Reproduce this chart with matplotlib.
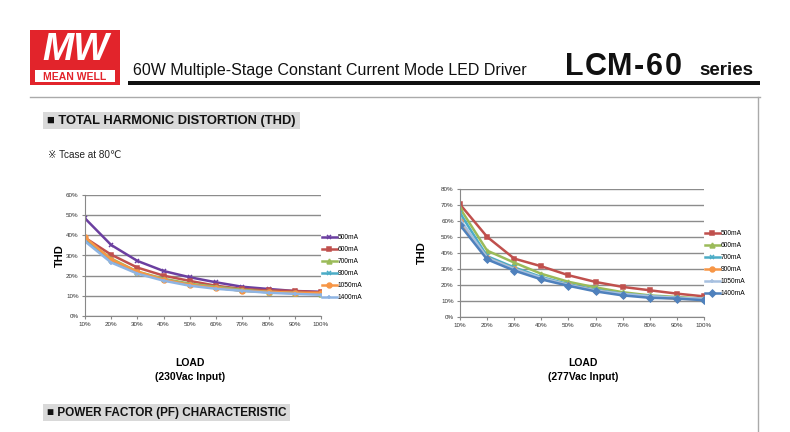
import matplotlib
matplotlib.use("Agg")
import matplotlib.pyplot as plt
from matplotlib.patches import Rectangle

plt.rcParams['font.family'] = ['Liberation Sans', 'DejaVu Sans', 'Noto Sans CJK SC']

# ---- data ----
load_labels = ["10%", "20%", "30%", "40%", "50%", "60%", "70%", "80%", "90%", "100%"]

series_names = ["500mA", "600mA", "700mA", "900mA", "1050mA", "1400mA"]
thd_230_500 = [48.4, 35.2, 27.3, 22.3, 19.2, 16.7, 14.5, 13.4, 12.4, 12.0]
thd_230_600 = [38.8, 30.4, 24.0, 20.0, 17.4, 15.0, 13.4, 12.7, 12.4, 11.7]
thd_230_700 = [38.0, 28.5, 22.0, 18.5, 16.0, 14.5, 13.0, 12.0, 11.5, 11.0]
thd_230_900 = [37.5, 27.5, 21.5, 18.0, 15.5, 14.0, 12.5, 11.8, 11.3, 11.0]
thd_230_1050 = [39.0, 28.0, 22.0, 18.0, 15.5, 14.0, 12.5, 12.0, 11.5, 11.5]
thd_230_1400 = [37.0, 26.5, 21.0, 17.5, 15.0, 13.5, 12.5, 11.5, 11.0, 10.5]

thd_277_500 = [70.4, 50.1, 36.5, 31.7, 26.1, 21.9, 18.8, 16.7, 14.6, 12.9]
thd_277_600 = [68.0, 41.5, 34.0, 27.0, 22.0, 18.5, 15.5, 13.5, 12.5, 11.5]
thd_277_700 = [65.0, 38.0, 31.0, 25.0, 20.5, 17.0, 14.5, 13.0, 12.0, 11.0]
thd_277_900 = [60.0, 37.0, 30.0, 24.0, 20.0, 16.5, 14.0, 12.5, 11.5, 11.0]
thd_277_1050 = [61.0, 37.0, 30.0, 24.5, 20.0, 16.5, 14.5, 13.0, 12.0, 11.5]
thd_277_1400 = [57.5, 36.0, 29.0, 23.5, 19.5, 16.0, 13.5, 12.0, 11.5, 10.5]

left_data = [thd_230_500, thd_230_600, thd_230_700, thd_230_900, thd_230_1050, thd_230_1400]
right_data = [thd_277_500, thd_277_600, thd_277_700, thd_277_900, thd_277_1050, thd_277_1400]

left_colors = ["#6B3FA0", "#C0504D", "#9BBB59", "#4BACC6", "#F79646", "#8EB4E3"]
left_markers = ["x", "s", "^", "x", "o", "+"]
right_colors = ["#C0504D", "#9BBB59", "#4BACC6", "#F79646", "#A7C0E0", "#4F81BD"]
right_markers = ["s", "^", "x", "o", "+", "D"]

W, H = 790, 432
fig = plt.figure(figsize=(W / 100, H / 100), dpi=100)
fig.patch.set_facecolor("white")

# background/page axes in pixel coords
bg = fig.add_axes([0, 0, 1, 1])
bg.set_xlim(0, W)
bg.set_ylim(H, 0)
bg.axis("off")

# logo
bg.add_patch(Rectangle((30, 30), 90, 55, facecolor="#E2242B", edgecolor="none"))
bg.text(76, 50, "MW", color="white", fontsize=27, fontstyle="italic", fontweight="bold",
        ha="center", va="center")
bg.add_patch(Rectangle((35, 70), 80, 12, facecolor="white", edgecolor="none"))
bg.text(75, 76.5, "MEAN WELL", color="#E2242B", fontsize=7.5, fontweight="bold",
        ha="center", va="center")

bg.text(133, 75, "60W Multiple-Stage Constant Current Mode LED Driver", fontsize=11.5,
        ha="left", va="baseline", color="#111111")
lcm_chars = ["L", "C", "M", "-", "6", "0"]
lcm_x = [565, 585, 607, 634, 646, 665]
for ch, xx in zip(lcm_chars, lcm_x):
    bg.text(xx, 75, ch, fontsize=22, fontweight="bold", ha="left", va="baseline", color="#111111")
bg.text(699, 75, "series", fontsize=13.5, fontweight="bold", ha="left", va="baseline",
        color="#111111")
bg.add_patch(Rectangle((128, 81), 632, 4, facecolor="#111111", edgecolor="none"))
bg.plot([30, 760], [97, 97], color="#AAAAAA", lw=1)
bg.plot([758, 758], [97, 432], color="#AAAAAA", lw=1)

# section headings
bg.add_patch(Rectangle((43, 112), 257, 17, facecolor="#D9D9D9", edgecolor="none"))
bg.text(47, 121, "\u25A0 TOTAL HARMONIC DISTORTION (THD)", fontsize=9.3, fontweight="bold",
        ha="left", va="center", color="#111111")
bg.text(48, 155, "\u203B Tcase at 80\u2103", fontsize=7.2, ha="left", va="center",
        color="#222222")
bg.add_patch(Rectangle((43, 404), 247, 17, facecolor="#D9D9D9", edgecolor="none"))
bg.text(47, 413, "\u25A0 POWER FACTOR (PF) CHARACTERISTIC", fontsize=8.5, fontweight="bold",
        ha="left", va="center", color="#111111")

bg.text(190, 363, "LOAD", fontsize=7.5, fontweight="bold", ha="center", va="center")
bg.text(190, 377, "(230Vac Input)", fontsize=7.5, fontweight="bold", ha="center", va="center")
bg.text(583, 363, "LOAD", fontsize=7.5, fontweight="bold", ha="center", va="center")
bg.text(583, 377, "(277Vac Input)", fontsize=7.5, fontweight="bold", ha="center", va="center")


def make_chart(x0, x1, ytop, ybot, ymax, data, names, colors, markers, ylab_x, leg_x, leg_y):
    ax = fig.add_axes([x0 / W, 1 - ybot / H, (x1 - x0) / W, (ybot - ytop) / H])
    xs = list(range(len(load_labels)))
    for vals, nm, c, m in zip(data, names, colors, markers):
        ax.plot(xs, vals, color=c, lw=1.8, marker=m, ms=3.5, mew=1.1, label=nm)
    ax.set_xlim(0, len(load_labels) - 1)
    ax.set_ylim(0, ymax)
    ax.set_xticks(xs)
    ax.set_xticklabels(load_labels)
    ax.set_yticks(range(0, ymax + 1, 10))
    ax.set_yticklabels([f"{v}%" for v in range(0, ymax + 1, 10)])
    ax.tick_params(labelsize=4.5, length=2.5, width=0.8, colors="#888888", labelcolor="#333333", pad=2)
    ax.yaxis.grid(True, color="#8C8C8C", lw=1)
    ax.set_axisbelow(True)
    for s in ["top", "right"]:
        ax.spines[s].set_visible(False)
    ax.spines["left"].set_color("#888888")
    ax.spines["bottom"].set_color("#888888")
    ax.patch.set_alpha(0)
    fig.text(ylab_x / W, 1 - (ytop + ybot) / 2 / H, "THD", rotation=90, fontsize=8,
             fontweight="bold", ha="center", va="center")
    ax.legend(loc="upper left", bbox_to_anchor=((leg_x - x0) / (x1 - x0), (ybot - leg_y) / (ybot - ytop)),
              frameon=False, fontsize=4.8, handlelength=2.2, handletextpad=0.2,
              labelspacing=0.75, borderaxespad=0, borderpad=0)
    return ax


make_chart(85, 321, 195, 316, 60, left_data, series_names, left_colors, left_markers, 60, 322, 234)
make_chart(460, 704, 189, 317, 80, right_data, series_names, right_colors, right_markers, 422, 705, 230)

fig.savefig("out.png", dpi=100, facecolor="white")
